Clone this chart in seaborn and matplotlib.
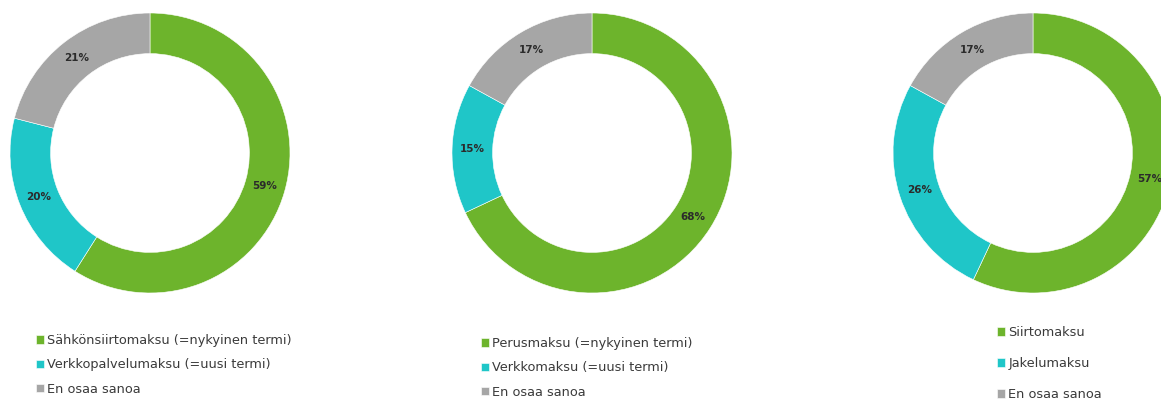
import matplotlib
matplotlib.use("Agg")
import matplotlib.pyplot as plt
import seaborn as sns

sns.set_theme(style="white")
plt.rcParams['font.family'] = ['DejaVu Sans']

# ---- data ----
labels_1 = ["Sähkönsiirtomaksu (=nykyinen termi)", "Verkkopalvelumaksu (=uusi termi)", "En osaa sanoa"]
values_1 = [59, 20, 21]
labels_2 = ["Perusmaksu (=nykyinen termi)", "Verkkomaksu (=uusi termi)", "En osaa sanoa"]
values_2 = [68, 15, 17]
labels_3 = ["Siirtomaksu", "Jakelumaksu", "En osaa sanoa"]
values_3 = [57, 26, 17]

colors = sns.color_palette(["#6db42c", "#1fc6c8", "#a6a6a6"])

W, H = 1161, 401
fig = plt.figure(figsize=(W / 100, H / 100), dpi=100)
fig.patch.set_facecolor("white")

R = 140  # outer radius px
centers = [(150, 153), (592, 153), (1033, 153)]
legend_pos = [(36, 334, 0.88), (481, 337, 0.88), (997, 326, 1.4)]
datasets = [(labels_1, values_1), (labels_2, values_2), (labels_3, values_3)]

for (cx, cy), (labs, vals), (lx, ly, lsp) in zip(centers, datasets, legend_pos):
    ax = fig.add_axes([(cx - R) / W, (H - cy - R) / H, 2 * R / W, 2 * R / H])
    wedges, texts = ax.pie(
        vals, colors=colors, startangle=90, counterclock=False, radius=1,
        labels=[f"{v}%" for v in vals], labeldistance=0.855,
        wedgeprops=dict(width=0.29, edgecolor="white", linewidth=0.4),
        textprops=dict(fontsize=7.5, fontweight="bold", color="#2b2b2b", ha="center", va="center"),
    )
    ax.set_xlim(-1, 1)
    ax.set_ylim(-1, 1)
    ax.set_aspect("equal")
    ax.axis("off")
    fig.legend(
        wedges, labs, loc="upper left",
        bbox_to_anchor=(lx / W, (H - ly) / H), bbox_transform=fig.transFigure,
        frameon=False, fontsize=9.3, labelcolor="#3a3a3a",
        handlelength=0.62, handleheight=0.62, handletextpad=0.25,
        labelspacing=lsp, borderpad=0, borderaxespad=0,
    )

fig.savefig("out.png", dpi=100, facecolor="white")
